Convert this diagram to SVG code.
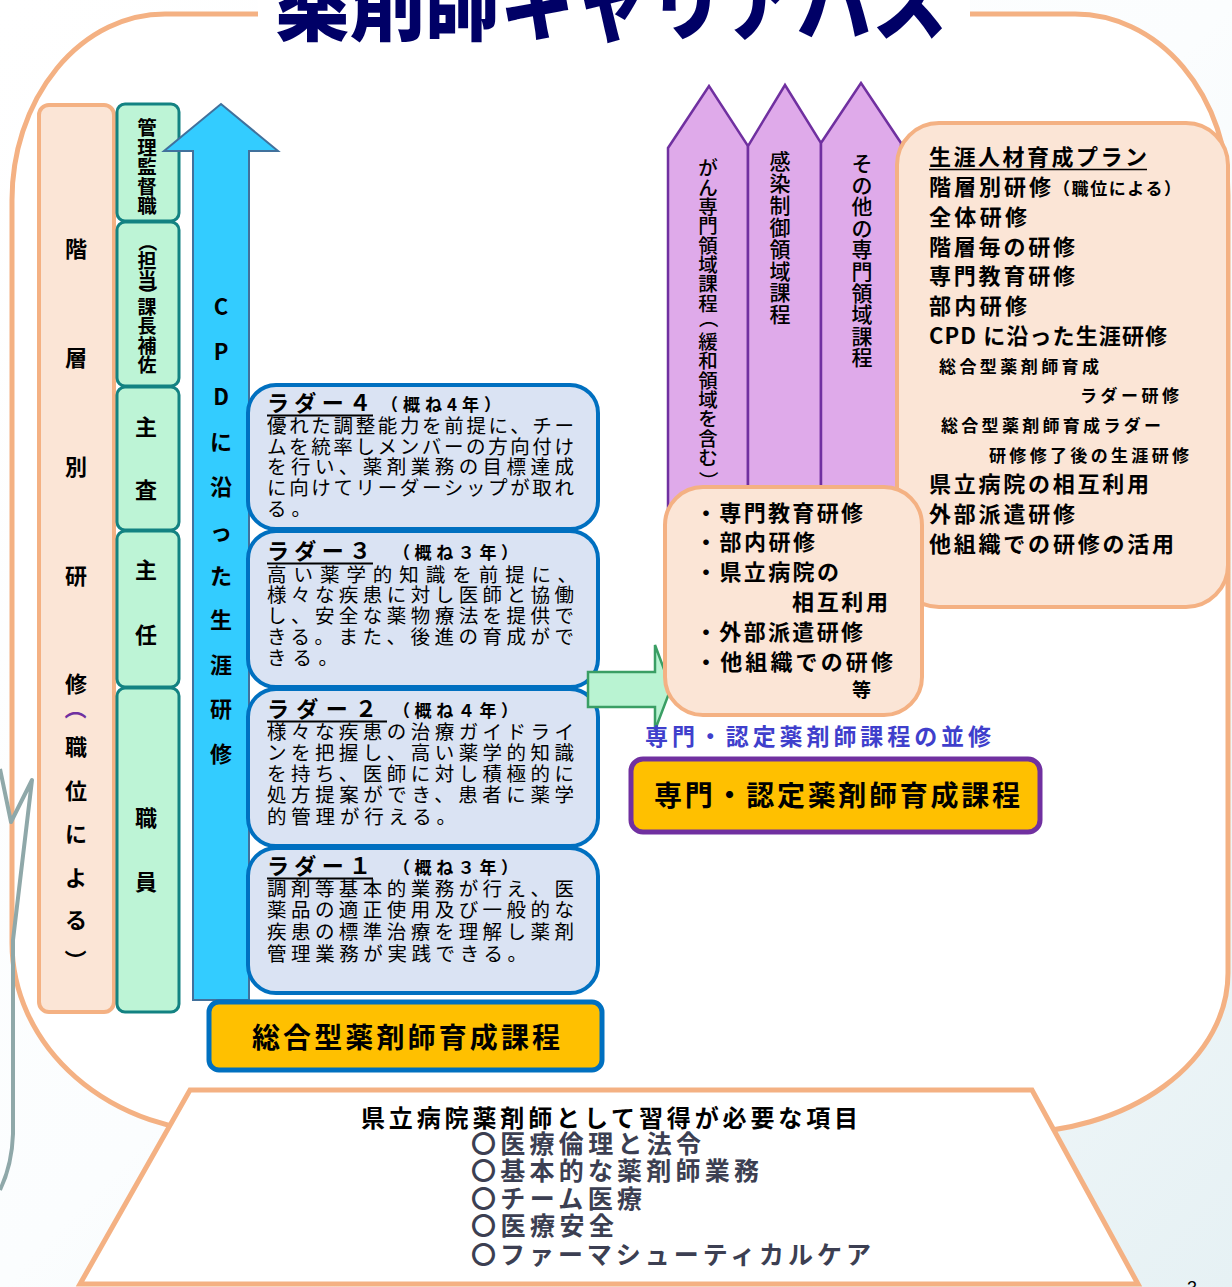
<svg xmlns="http://www.w3.org/2000/svg" width="1232" height="1287" viewBox="0 0 1232 1287">
<defs>
<linearGradient id="bg" x1="0" y1="0" x2="1" y2="1">
<stop offset="0" stop-color="#ffffff"/><stop offset="0.5" stop-color="#fbfdfe"/><stop offset="1" stop-color="#e6f1f4"/>
</linearGradient>
<style>
text{font-family:'Noto Sans CJK JP','Noto Sans CJK SC',sans-serif;fill:#000}
.b{font-weight:700}
.v{text-anchor:middle}
.frame{fill:#fff;stroke:#F4B183;stroke-width:5}
.peach{fill:#FBE5D6;stroke:#F4B183;stroke-width:4}
.green{fill:#BDF4D6;stroke:#138282;stroke-width:3}
.ladder{fill:#DAE3F3;stroke:#0070C0;stroke-width:4}
.purple{fill:#DFAAEA;stroke:#7030A0;stroke-width:2.5}
.body{font-size:19.5px}
.hd{font-size:22px;font-weight:700}
.yr{font-size:17px;font-weight:700}
.ul{stroke:#000;stroke-width:2}
.rb{font-size:22px;font-weight:700}
.rs{font-size:17px;font-weight:700}
.sb{font-size:22px;font-weight:700}
.item{font-size:25px;font-weight:700;fill:#3C3F52}
.col{font-size:22px;font-weight:700;text-anchor:middle}
</style>
</defs>
<rect x="0" y="0" width="1232" height="1287" fill="url(#bg)"/>
<g id="frame">
<path class="frame" d="M 257 14 L 165 14 A 153 186 0 0 0 12 200 L 12 943 A 218 190 0 0 0 230 1133 L 1010 1133 A 218 160 0 0 0 1228 973 L 1228 195 A 153 181 0 0 0 1075 14 L 970 14 Z"/>
<rect x="258" y="0" width="712" height="30" fill="#fff"/>
</g>
<g id="title">
<text x="275" y="34" textLength="672" lengthAdjust="spacingAndGlyphs" style="font-size:86px;font-weight:900;fill:#000066">薬剤師キャリアパス</text>
</g>
<g id="deco">
<path d="M 0 769 L 11 822 L 32 780 L 13 940 L 13 1134 Q 12 1165 0 1190" fill="none" stroke="#8FA8A9" stroke-width="4" stroke-linejoin="round"/>
</g>
<g id="kaisou">
<rect class="peach" x="39" y="105" width="75" height="907" rx="10"/>
<text class="col" x="76 76 76 76 76" y="257 366 475 584 692">階層別研修</text>
<text class="col" x="76" y="717" transform="rotate(90 76 708.6)" style="fill:#7030A0">（</text>
<text class="col" x="76 76 76 76 76" y="755 799 842 886 928">職位による</text>
<text class="col" x="76" y="968.8" transform="rotate(90 76 960.4)">）</text>
</g>
<g id="posts">
<rect class="green" x="117" y="104" width="62" height="117" rx="8"/>
<rect class="green" x="117" y="222" width="62" height="164" rx="8"/>
<rect class="green" x="117" y="387" width="62" height="143" rx="8"/>
<rect class="green" x="117" y="531" width="62" height="156" rx="8"/>
<rect class="green" x="117" y="688" width="62" height="324" rx="8"/>
<text class="b v" style="font-size:19.5px" x="147 147 147 147 147" y="135 154.5 174 193.5 212.5">管理監督職</text>
<text class="b v" style="font-size:19px" x="147" y="249.4" transform="rotate(90 147 242.2)">（</text>
<text class="b v" style="font-size:19px" x="147 147" y="268 287">担当</text>
<text class="b v" style="font-size:19px" x="147" y="302" transform="rotate(90 147 294.8)">）</text>
<text class="b v" style="font-size:19px" x="147 147 147 147" y="314 333 353 372">課長補佐</text>
<text class="col" x="146 146" y="435 498">主査</text>
<text class="col" x="146 146" y="578 643">主任</text>
<text class="col" x="146 146" y="826 890">職員</text>
</g>
<g id="cpd">
<polygon points="193,1000 193,151 164,151 221,104 278,151 249,151 249,1000" fill="#33CCFF" stroke="#41719C" stroke-width="2"/>
<text class="col" x="221 221 221 221 221 221 221 221 221 221 221" y="315 360 405 450 495 540 584 628 673 717 762">CPDに沿った生涯研修</text>
</g>
<g id="ladder4">
<rect class="ladder" x="248" y="385" width="350" height="144" rx="28"/>
<text class="hd" x="267" y="411" textLength="104">ラダー４</text>
<line class="ul" x1="267" y1="415.5" x2="373" y2="415.5"/>
<text class="yr" x="381" y="411" textLength="120">（概ね4年）</text>
<text class="body" x="267" y="433" textLength="307">優れた調整能力を前提に、チー</text>
<text class="body" x="267" y="453.7" textLength="307">ムを統率しメンバーの方向付け</text>
<text class="body" x="267" y="474.4" textLength="307">を行い、薬剤業務の目標達成</text>
<text class="body" x="267" y="495.1" textLength="307">に向けてリーダーシップが取れ</text>
<text class="body" x="267" y="515.8" textLength="44">る。</text>
</g>
<g id="ladder3">
<rect class="ladder" x="248" y="531" width="350" height="156" rx="28"/>
<text class="hd" x="267" y="559" textLength="104">ラダー３</text>
<line class="ul" x1="267" y1="563.5" x2="373" y2="563.5"/>
<text class="yr" x="393" y="559" textLength="125">（概ね３年）</text>
<text class="body" x="267" y="581.5" textLength="310">高い薬学的知識を前提に、</text>
<text class="body" x="267" y="602.4" textLength="307">様々な疾患に対し医師と協働</text>
<text class="body" x="267" y="623.3" textLength="307">し、安全な薬物療法を提供で</text>
<text class="body" x="267" y="644.2" textLength="307">きる。また、後進の育成がで</text>
<text class="body" x="267" y="665.1" textLength="71">きる。</text>
</g>
<g id="ladder2">
<rect class="ladder" x="248" y="689" width="350" height="157" rx="28"/>
<text class="hd" x="267" y="717" textLength="110">ラダー２</text>
<line class="ul" x1="267" y1="721.5" x2="387" y2="721.5"/>
<text class="yr" x="393" y="717" textLength="125">（概ね４年）</text>
<text class="body" x="267" y="738.5" textLength="307">様々な疾患の治療ガイドライ</text>
<text class="body" x="267" y="759.8" textLength="307">ンを把握し、高い薬学的知識</text>
<text class="body" x="267" y="781.1" textLength="307">を持ち、医師に対し積極的に</text>
<text class="body" x="267" y="802.4" textLength="307">処方提案ができ、患者に薬学</text>
<text class="body" x="267" y="823.7" textLength="189">的管理が行える。</text>
</g>
<g id="ladder1">
<rect class="ladder" x="248" y="848" width="350" height="145" rx="28"/>
<text class="hd" x="267" y="874" textLength="104">ラダー１</text>
<line class="ul" x1="267" y1="878.5" x2="373" y2="878.5"/>
<text class="yr" x="393" y="874" textLength="125">（概ね３年）</text>
<text class="body" x="267" y="895.5" textLength="307">調剤等基本的業務が行え、医</text>
<text class="body" x="267" y="917.3" textLength="307">薬品の適正使用及び一般的な</text>
<text class="body" x="267" y="939.1" textLength="307">疾患の標準治療を理解し薬剤</text>
<text class="body" x="267" y="960.9" textLength="260">管理業務が実践できる。</text>
</g>
<g id="sogo">
<rect x="209" y="1002" width="393" height="68" rx="10" fill="#FFC000" stroke="#0070C0" stroke-width="5"/>
<text class="b" x="252" y="1048" textLength="308" style="font-size:28px">総合型薬剤師育成課程</text>
</g>
<g id="courses">
<polygon class="purple" points="668,520 668,148 709,86 748,146 748,520"/>
<polygon class="purple" points="748,520 748,146 785,85 821,143 821,520"/>
<polygon class="purple" points="821,520 821,143 861,83 901,143 901,520"/>
<text class="v" style="font-size:19.5px;font-weight:500" x="708 708 708 708 708 708 708 708" y="175.4 194.7 214 233.3 252.6 271.9 291.2 310.5">がん専門領域課程</text>
<text class="v" style="font-size:19.5px;font-weight:500" x="708" y="325.9" transform="rotate(90 708 318.5)">（</text>
<text class="v" style="font-size:19.5px;font-weight:500" x="708 708 708 708 708 708 708" y="349.1 368.4 387.7 407 426.3 445.6 464.9">緩和領域を含む</text>
<text class="v" style="font-size:19.5px;font-weight:500" x="708" y="488.1" transform="rotate(90 708 480.7)">）</text>
<text class="v" style="font-size:21px;font-weight:500" x="780 780 780 780 780 780 780 780" y="169 190.9 212.8 234.7 256.6 278.5 300.4 322.3">感染制御領域課程</text>
<text class="v" style="font-size:21px;font-weight:500" x="862 862 862 862 862 862 862 862 862 862" y="171 192.6 214.2 235.8 257.4 279 300.6 322.2 343.8 365.4">その他の専門領域課程</text>
</g>
<g id="plan">
<rect class="peach" x="897" y="123" width="331" height="484" rx="42"/>
<text class="rb" x="929" y="165" textLength="218">生涯人材育成プラン</text>
<line x1="929" y1="169.5" x2="1147" y2="169.5" stroke="#000" stroke-width="1.5"/>
<text class="rb" x="929" y="195" textLength="122">階層別研修</text>
<text class="rs" x="1053" y="195" textLength="128">（職位による）</text>
<text class="rb" x="929" y="224.5" textLength="98">全体研修</text>
<text class="rb" x="929" y="254.5" textLength="146">階層毎の研修</text>
<text class="rb" x="929" y="284" textLength="146">専門教育研修</text>
<text class="rb" x="929" y="313.5" textLength="98">部内研修</text>
<text class="rb" x="929" y="343.5" textLength="238">CPD に沿った生涯研修</text>
<text class="rs" x="939" y="372.5" textLength="160">総合型薬剤師育成</text>
<text class="rs" x="1080" y="402" textLength="99">ラダー研修</text>
<text class="rs" x="941" y="432" textLength="220">総合型薬剤師育成ラダー</text>
<text class="rs" x="989" y="462" textLength="200">研修修了後の生涯研修</text>
<text class="rb" x="929" y="491.5" textLength="220">県立病院の相互利用</text>
<text class="rb" x="929" y="521.5" textLength="146">外部派遣研修</text>
<text class="rb" x="929" y="551.5" textLength="245">他組織での研修の活用</text>
</g>
<g id="connectors">
<polygon points="588,672 655,672 655,645 671,688 655,730 655,707 588,707" fill="#B9F3D2" stroke="#3A9E64" stroke-width="2.5" stroke-linejoin="miter"/>
</g>
<g id="heishu">
<rect class="peach" x="665" y="487" width="257" height="228" rx="38"/>
<text class="sb" x="695" y="521" textLength="168">・専門教育研修</text>
<text class="sb" x="695" y="550" textLength="120">・部内研修</text>
<text class="sb" x="695" y="580" textLength="144">・県立病院の</text>
<text class="sb" x="792" y="610" textLength="96">相互利用</text>
<text class="sb" x="695" y="640" textLength="168">・外部派遣研修</text>
<text class="sb" x="695" y="670" textLength="198">・他組織での研修</text>
<text class="b" x="852" y="697" style="font-size:19px">等</text>
</g>
<g id="senmon">
<text class="b" x="645" y="745" textLength="346" style="font-size:23px;fill:#3F3FCC">専門・認定薬剤師課程の並修</text>
<rect x="631" y="759" width="409" height="73" rx="12" fill="#FFC000" stroke="#7030A0" stroke-width="5"/>
<text class="b" x="654" y="806" textLength="366" style="font-size:28px">専門・認定薬剤師育成課程</text>
</g>
<g id="base">
<polygon class="frame" points="190,1090 1032,1090 1138,1284 80,1284"/>
<text class="b" x="361" y="1127" textLength="497" style="font-size:24px">県立病院薬剤師として習得が必要な項目</text>
<text class="item" x="471" y="1152.5" textLength="230">〇医療倫理と法令</text>
<text class="item" x="471" y="1180" textLength="288">〇基本的な薬剤師業務</text>
<text class="item" x="471" y="1208" textLength="171">〇チーム医療</text>
<text class="item" x="471" y="1235" textLength="143">〇医療安全</text>
<text class="item" x="471" y="1263.5" textLength="400">〇ファーマシューティカルケア</text>
</g>
<text x="1187" y="1294" style="font-family:'Liberation Sans',sans-serif;font-size:18px">3</text>
</svg>
